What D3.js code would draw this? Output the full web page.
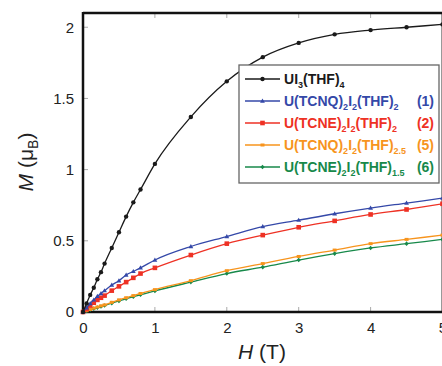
<!DOCTYPE html>
<html><head><meta charset="utf-8">
<script src="https://cdn.jsdelivr.net/npm/d3@7"></script>
<style>body{margin:0;background:#fff}svg{display:block;font-family:"Liberation Sans",Arial,sans-serif}</style>
</head><body><svg id="c" width="442" height="366"></svg>
<script>
const H = [0,0.05,0.1,0.15,0.2,0.25,0.3,0.4,0.5,0.6,0.7,0.8,1,1.5,2,2.5,3,3.5,4,4.5,5];
const mUI3 = [0,0.06,0.12,0.17,0.23,0.28,0.34,0.45,0.56,0.67,0.77,0.86,1.04,1.37,1.62,1.79,1.89,1.95,1.98,2.0,2.02];
const mTCNQ1 = [0,0.03,0.06,0.085,0.11,0.13,0.15,0.19,0.22,0.26,0.285,0.31,0.365,0.46,0.53,0.60,0.645,0.69,0.73,0.765,0.80];
const mTCNE2 = [0,0.02,0.045,0.065,0.085,0.10,0.115,0.15,0.18,0.21,0.24,0.27,0.31,0.40,0.48,0.54,0.595,0.64,0.685,0.72,0.76];
const mTCNQ5 = [0,0.009,0.018,0.027,0.035,0.043,0.05,0.068,0.085,0.10,0.115,0.13,0.157,0.22,0.29,0.34,0.39,0.435,0.48,0.51,0.54];
const mTCNE6 = [0,0.008,0.016,0.024,0.031,0.039,0.046,0.062,0.078,0.093,0.107,0.121,0.148,0.21,0.27,0.315,0.365,0.41,0.45,0.48,0.51];
const xTicks = [0,1,2,3,4,5];
const yTicks = [0,0.5,1,1.5,2];
const yTickLabels = ["0","0.5","1","1.5","2"];

const series = [
  {name:[["U",0],["I",0],["3",1],["(THF)",0],["4",1]], suffix:"", color:"#1a1a1a", values:mUI3, marker:"circle"},
  {name:[["U(TCNQ)",0],["2",1],["I",0],["2",1],["(THF)",0],["2",1]], suffix:"(1)", color:"#3448a8", values:mTCNQ1, marker:"triangle"},
  {name:[["U(TCNE)",0],["2",1],["I",0],["2",1],["(THF)",0],["2",1]], suffix:"(2)", color:"#ee3124", values:mTCNE2, marker:"square"},
  {name:[["U(TCNQ)",0],["2",1],["I",0],["2",1],["(THF)",0],["2.5",1]], suffix:"(5)", color:"#f7941d", values:mTCNQ5, marker:"cross"},
  {name:[["U(TCNE)",0],["2",1],["I",0],["2",1],["(THF)",0],["1.5",1]], suffix:"(6)", color:"#17894a", values:mTCNE6, marker:"diamond"}
];

const svg = d3.select("#c");
const L=83, R=442.5, T=13, B=312;
const x = d3.scaleLinear().domain([0,5]).range([L,R]);
const y = d3.scaleLinear().domain([0,2.1]).range([B,T]);

// ticks (inward, gray)
const g = svg.append("g");
yTicks.forEach(v=>{ if(v>0) g.append("line").attr("x1",L).attr("x2",L+5).attr("y1",y(v)).attr("y2",y(v)).attr("stroke","#aaa").attr("stroke-width",1);});
xTicks.forEach(v=>{ if(v>0&&v<5){
  g.append("line").attr("x1",x(v)).attr("x2",x(v)).attr("y1",B).attr("y2",B-5).attr("stroke","#aaa");
  g.append("line").attr("x1",x(v)).attr("x2",x(v)).attr("y1",T).attr("y2",T+5).attr("stroke","#aaa");
}});

const ax = svg.append("g").attr("transform",`translate(0,${B})`).call(d3.axisBottom(x).tickValues(xTicks).tickSize(0).tickPadding(10).tickFormat(d3.format("d")));
ax.select(".domain").remove();
ax.selectAll("text").attr("font-size",15).attr("fill","#222").attr("font-family","Liberation Sans, Arial, sans-serif");
const ay = svg.append("g").attr("transform",`translate(${L},0)`).call(d3.axisLeft(y).tickValues(yTicks).tickSize(0).tickPadding(9).tickFormat((d,i)=>yTickLabels[i]));
ay.select(".domain").remove();
ay.selectAll("text").attr("font-size",15).attr("fill","#222").attr("font-family","Liberation Sans, Arial, sans-serif");

// frame
svg.append("line").attr("x1",R-1).attr("x2",R-1).attr("y1",T).attr("y2",B).attr("stroke","#999").attr("stroke-width",1);
svg.append("line").attr("x1",L).attr("x2",R).attr("y1",T).attr("y2",T).attr("stroke","#111").attr("stroke-width",2.5);
svg.append("line").attr("x1",L).attr("x2",R).attr("y1",B).attr("y2",B).attr("stroke","#111").attr("stroke-width",2.5);
svg.append("line").attr("x1",L).attr("x2",L).attr("y1",T-1).attr("y2",B+1).attr("stroke","#111").attr("stroke-width",2.5);

const line = d3.line().x(d=>x(d[0])).y(d=>y(d[1])).curve(d3.curveMonotoneX);
function marker(sel, type, color, cx, cy){
  if(type==="circle") sel.append("circle").attr("cx",cx).attr("cy",cy).attr("r",2.2).attr("fill",color);
  else if(type==="square") sel.append("rect").attr("x",cx-2.3).attr("y",cy-2.3).attr("width",4.6).attr("height",4.6).attr("fill",color);
  else if(type==="triangle") sel.append("path").attr("d",`M${cx},${cy-2.5}L${cx+2.4},${cy+1.7}L${cx-2.4},${cy+1.7}Z`).attr("fill",color);
  else if(type==="diamond") sel.append("path").attr("d",`M${cx},${cy-2.3}L${cx+2.1},${cy}L${cx},${cy+2.3}L${cx-2.1},${cy}Z`).attr("fill",color);
  else sel.append("rect").attr("x",cx-2).attr("y",cy-1.5).attr("width",4).attr("height",3).attr("fill",color);
}
const plot = svg.append("g");
series.slice().reverse().forEach(s=>{
  const pts = H.map((h,i)=>[h,s.values[i]]);
  plot.append("path").datum(pts).attr("d",line).attr("fill","none").attr("stroke",s.color).attr("stroke-width",1.3);
  const mg = plot.append("g");
  pts.forEach(p=> marker(mg,s.marker,s.color,x(p[0]),y(p[1])));
});

// legend
const lg = svg.append("g");
lg.append("rect").attr("x",239).attr("y",65).attr("width",200).attr("height",118).attr("fill","#fff").attr("stroke","#666").attr("stroke-width",1.3);
series.forEach((s,i)=>{
  const yy = 79 + i*22;
  lg.append("line").attr("x1",245).attr("x2",280).attr("y1",yy).attr("y2",yy).attr("stroke",s.color).attr("stroke-width",1.3);
  marker(lg,s.marker,s.color,262.5,yy);
  const t = lg.append("text").attr("x",284).attr("y",yy+5).attr("font-size",14).attr("font-weight","bold").attr("fill",s.color);
  let prevSub = false;
  s.name.forEach(([txt,sub])=>{
    const dy = sub ? (prevSub?0:4) : (prevSub?-4:0);
    t.append("tspan").attr("font-size",sub?9:14).attr("dy",dy).text(txt);
    prevSub = !!sub;
  });
  if(s.suffix) lg.append("text").attr("x",434).attr("y",yy+5).attr("text-anchor","end").attr("font-size",14).attr("font-weight","bold").attr("fill",s.color).text(s.suffix);
});

// axis titles
const xt = svg.append("text").attr("x",262).attr("y",359).attr("text-anchor","middle").attr("font-size",21).attr("fill","#222");
xt.append("tspan").attr("font-style","italic").text("H");
xt.append("tspan").text(" (T)");
const yt = svg.append("text").attr("transform","translate(33,162) rotate(-90)").attr("text-anchor","middle").attr("font-size",21).attr("fill","#222");
yt.append("tspan").attr("font-style","italic").text("M");
yt.append("tspan").text(" (\u03bc");
yt.append("tspan").attr("font-size",14).attr("dy",5).text("B");
yt.append("tspan").attr("dy",-5).text(")");
</script></body></html>
